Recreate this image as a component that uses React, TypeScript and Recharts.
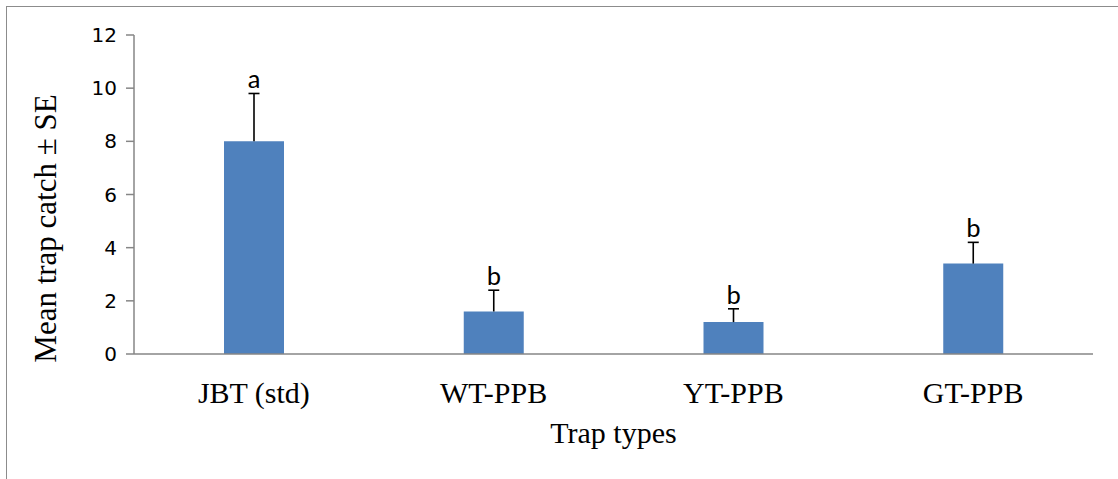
import React from 'react';
import { BarChart, Bar, XAxis, YAxis, LabelList } from 'recharts';

const categories = ['JBT (std)', 'WT-PPB', 'YT-PPB', 'GT-PPB'];
const means = [8.0, 1.6, 1.2, 3.4];
const errors = [1.8, 0.8, 0.5, 0.8];
const letters = ['a', 'b', 'b', 'b'];
const yTicks = [0, 2, 4, 6, 8, 10, 12];

const data = categories.map((trap, i) => ({
  trap,
  mean: means[i],
  se: errors[i],
  letter: letters[i],
}));

const AXIS = '#868686';
const BAR = '#4F81BD';
const SERIF = '"Times New Roman", "Liberation Serif", serif';
const SANS = 'Carlito, Calibri, "Liberation Sans", Arial, sans-serif';
const TICK_SANS = '"DejaVu Sans", "Liberation Sans", sans-serif';

const Whisker = (props: any) => {
  const { x, y, width, height } = props;
  if (height == null || width == null) return null;
  const cx = x + width / 2;
  return (
    <g>
      <line x1={cx} y1={y + height} x2={cx} y2={y} stroke="#000" strokeWidth={1.6} />
      <line x1={cx - 5.5} y1={y} x2={cx + 5.5} y2={y} stroke="#000" strokeWidth={1.6} />
    </g>
  );
};

const YTitle = (p: any) => {
  const vb = p.viewBox || {};
  const cx = (vb.x || 0) + 56;
  const cy = (vb.y || 0) + (vb.height || 0) / 2 + 34;
  return (
    <text
      transform={`translate(${cx},${cy}) rotate(-90)`}
      textAnchor="middle"
      fontFamily={SERIF}
      fontSize={31}
      fill="#000"
    >
      Mean trap catch ± SE
    </text>
  );
};

const XTitle = (p: any) => {
  const vb = p.viewBox || {};
  const cx = (vb.x || 0) + (vb.width || 0) / 2;
  const cy = (vb.y || 0) + 89;
  return (
    <text x={cx} y={cy} textAnchor="middle" fontFamily={SERIF} fontSize={30} fill="#000">
      Trap types
    </text>
  );
};

export default function App() {
  return (
    <div style={{ position: 'fixed', left: 0, top: 0, width: 1118, height: 479, overflow: 'hidden', background: '#fff' }}>
      <div
        style={{
          position: 'absolute',
          left: 6,
          top: 6,
          width: 1300,
          height: 700,
          borderTop: '1.5px solid #8c8c8c',
          borderLeft: '1.5px solid #8c8c8c',
        }}
      />
      <div style={{ position: 'absolute', left: 0, top: 0 }}>
        <BarChart
          width={1118}
          height={479}
          data={data}
          margin={{ top: 35, right: 25, bottom: 0, left: 0 }}
          barSize={60}
        >
          <XAxis
            dataKey="trap"
            height={125}
            tickLine={false}
            tickSize={0}
            tickMargin={28}
            axisLine={{ stroke: AXIS, strokeWidth: 1.5 }}
            tick={{ fill: '#000', fontSize: 30, fontFamily: SERIF }}
            interval={0}
            label={{ content: XTitle }}
          />
          <YAxis
            width={134}
            domain={[0, 12]}
            ticks={yTicks}
            interval={0}
            tickSize={8}
            tickMargin={9}
            tickLine={{ stroke: AXIS, strokeWidth: 1.5 }}
            axisLine={{ stroke: AXIS, strokeWidth: 1.5 }}
            tick={{ fill: '#000', fontSize: 20, fontFamily: TICK_SANS }}
            label={{ content: YTitle }}
          />
          <Bar dataKey="mean" stackId="s" fill={BAR} isAnimationActive={false} />
          <Bar dataKey="se" stackId="s" fill="none" shape={Whisker} isAnimationActive={false}>
            <LabelList
              dataKey="letter"
              position="top"
              offset={5}
              fill="#000"
              fontSize={27}
              fontFamily={SANS}
            />
          </Bar>
        </BarChart>
      </div>
    </div>
  );
}
